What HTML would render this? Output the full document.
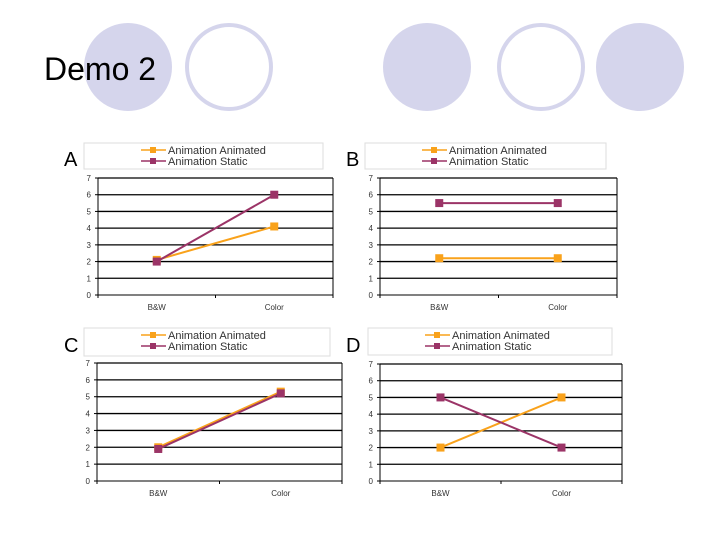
<!DOCTYPE html>
<html><head><meta charset="utf-8"><style>
body{margin:0;width:720px;height:540px;background:#fff;overflow:hidden;font-family:"Liberation Sans",sans-serif}
svg{position:absolute;left:0;top:0}
</style></head><body>
<svg id="s" width="720" height="540">
<circle cx="128" cy="67" r="44" fill="#d5d5ec"/>
<circle cx="229" cy="67" r="42" fill="#fff" stroke="#d5d5ec" stroke-width="4"/>
<circle cx="427" cy="67" r="44" fill="#d5d5ec"/>
<circle cx="541" cy="67" r="42" fill="#fff" stroke="#d5d5ec" stroke-width="4"/>
<circle cx="640" cy="67" r="44" fill="#d5d5ec"/>
<text x="44" y="80" font-size="32" fill="#000">Demo 2</text>
</svg>
<script>
const categories=["B&W","Color"];
const ticks=[0,1,2,3,4,5,6,7];
const seriesNames=["Animation Animated","Animation Static"];
const aAnimated=[2.1,4.1], aStatic=[2,6];
const bAnimated=[2.2,2.2], bStatic=[5.5,5.5];
const cAnimated=[2,5.3], cStatic=[1.9,5.2];
const dAnimated=[2,5], dStatic=[5,2];
const panels=[
 {id:"A",an:aAnimated,st:aStatic,lg:[84,143,239,26],px:[98,333,178,295],lx:64,ly:166},
 {id:"B",an:bAnimated,st:bStatic,lg:[365,143,241,26],px:[380,617,178,295],lx:346,ly:166},
 {id:"C",an:cAnimated,st:cStatic,lg:[84,328,246,28],px:[97,342,363,481],lx:64,ly:352},
 {id:"D",an:dAnimated,st:dStatic,lg:[368,328,244,27],px:[380,622,364,481],lx:346,ly:352}];
const colors=["#f9a21b","#9b3467"];
const s=document.getElementById('s');const NS="http://www.w3.org/2000/svg";
function mk(t,a,name,p){const e=document.createElementNS(NS,t);for(const k in a)e.setAttribute(k,a[k]);


(p||s).appendChild(e);return e;}
panels.forEach(P=>{
 const g=mk('g',{},'chart-'+P.id.toLowerCase());
 const [x0,x1,yt,yb]=P.px;
 const y=v=>yb-(v/7)*(yb-yt);
 const x=i=>x0+(x1-x0)*(0.25+0.5*i);
 const t=mk('text',{x:P.lx,y:P.ly,'font-size':20},'panel-label',g);t.textContent=P.id;
 mk('rect',{x:P.lg[0],y:P.lg[1],width:P.lg[2],height:P.lg[3],fill:'#fff',stroke:'#ddd'},'legend-box',g);
 seriesNames.forEach((n,k)=>{const ly=P.lg[1]+7+k*11,lx=P.lg[0]+57;
  mk('line',{x1:lx,y1:ly,x2:lx+25,y2:ly,stroke:colors[k],'stroke-width':1.5},'legend-line',g);
  mk('rect',{x:lx+9,y:ly-3,width:6,height:6,fill:colors[k]},'legend-marker',g);
  const tt=mk('text',{x:lx+27,y:ly+4,'font-size':11,fill:'#333'},'legend-entry',g);tt.textContent=n;});
 ticks.forEach(v=>{
  if(v>0)mk('line',{x1:x0,y1:y(v),x2:x1,y2:y(v),stroke:'#000','stroke-width':1.3},'gridline',g);
  mk('line',{x1:x0-3,y1:y(v),x2:x0,y2:y(v),stroke:'#000'},'y-tick',g);
  const tt=mk('text',{x:x0-7,y:y(v)+3,'font-size':8,'text-anchor':'end',fill:'#333'},'y-tick-label',g);tt.textContent=v;});
 mk('line',{x1:x0,y1:yt,x2:x0,y2:yb,stroke:'#000'},'y-axis',g);
 mk('line',{x1:x1,y1:yt,x2:x1,y2:yb,stroke:'#000'},'plot-right-border',g);
 mk('line',{x1:x0,y1:yb,x2:x1,y2:yb,stroke:'#000'},'x-axis',g);
 [x0,(x0+x1)/2,x1].forEach(xx=>mk('line',{x1:xx,y1:yb,x2:xx,y2:yb+3,stroke:'#000'},'x-tick',g));
 categories.forEach((c,i)=>{const tt=mk('text',{x:x(i),y:yb+15,'font-size':8,'text-anchor':'middle',fill:'#333'},'x-tick-label',g);tt.textContent=c;});
 [P.an,P.st].forEach((d,k)=>{
  mk('polyline',{points:d.map((v,i)=>x(i)+','+y(v)).join(' '),fill:'none',stroke:colors[k],'stroke-width':2},'series-line-'+(k?'static':'animated'),g);
  d.forEach((v,i)=>mk('rect',{x:x(i)-4,y:y(v)-4,width:8,height:8,fill:colors[k]},'point-'+(k?'static':'animated'),g));
 });
});
</script>
</body></html>
